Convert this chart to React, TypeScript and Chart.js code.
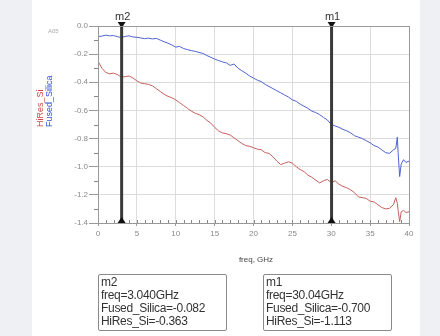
import React, { useEffect, useRef } from "react";
import { Chart, registerables } from "chart.js";

Chart.register(...registerables);

const freq = [
  0, 0.5, 1, 1.5, 2, 2.5, 3, 3.5, 4, 4.5, 5, 5.5, 6, 6.5, 7, 7.5, 8, 8.5, 9, 9.5,
  10, 10.5, 11, 11.5, 12, 12.5, 13, 13.5, 14, 14.5, 15, 15.5, 16, 16.5, 17, 17.5, 18, 18.5, 19, 19.5,
  20, 20.5, 21, 21.5, 22, 22.5, 23, 23.5, 24, 24.5, 25, 25.5, 26, 26.5, 27, 27.5, 28, 28.5, 29, 29.5,
  30, 30.5, 31, 31.5, 32, 32.5, 33, 33.5, 34, 34.5, 35, 35.5, 36, 36.5, 37, 37.5, 38, 38.3, 38.5, 38.6,
  38.8, 39, 39.3, 39.6, 40,
];

const fusedSilica = [
  -0.075, -0.072, -0.065, -0.07, -0.068, -0.076, -0.082, -0.074, -0.07, -0.078, -0.08, -0.085, -0.09, -0.086, -0.092, -0.088, -0.1, -0.112, -0.122, -0.135,
  -0.15, -0.145, -0.16, -0.168, -0.175, -0.18, -0.188, -0.195, -0.21, -0.222, -0.235, -0.245, -0.255, -0.262, -0.28, -0.27, -0.3, -0.318, -0.335, -0.355,
  -0.37, -0.385, -0.395, -0.415, -0.43, -0.445, -0.46, -0.475, -0.49, -0.505, -0.525, -0.535, -0.555, -0.57, -0.585, -0.605, -0.615, -0.63, -0.65, -0.668,
  -0.7, -0.71, -0.72, -0.735, -0.745, -0.76, -0.78, -0.79, -0.8, -0.815, -0.83, -0.85, -0.86, -0.88, -0.9, -0.905, -0.88, -0.87, -0.79, -0.9,
  -1.07, -0.98, -0.95, -0.97, -0.96,
];

const hiResSi = [
  -0.25, -0.3, -0.33, -0.34, -0.335, -0.345, -0.363, -0.36, -0.355, -0.37, -0.39, -0.405, -0.41, -0.415, -0.425, -0.445, -0.465, -0.485, -0.5, -0.51,
  -0.525, -0.545, -0.565, -0.585, -0.605, -0.62, -0.63, -0.645, -0.67, -0.69, -0.72, -0.745, -0.76, -0.765, -0.775, -0.795, -0.815, -0.835, -0.85, -0.855,
  -0.865, -0.875, -0.88, -0.9, -0.905, -0.93, -0.96, -0.985, -0.975, -0.965, -0.975, -1.0, -1.02, -1.035, -1.06, -1.075, -1.095, -1.115, -1.1, -1.09,
  -1.113, -1.1, -1.125, -1.14, -1.15, -1.165, -1.185, -1.215, -1.22, -1.225, -1.245, -1.25, -1.27, -1.29, -1.3, -1.295, -1.27, -1.22, -1.26, -1.31,
  -1.39, -1.32, -1.31, -1.325, -1.32,
];

const markerNames = ["m2", "m1"];
const markerFreqs = [3.04, 30.04];
const markerFreqText = ["3.040GHz", "30.04GHz"];
const markerFused = ["-0.082", "-0.700"];
const markerHiRes = ["-0.363", "-1.113"];

const xMin = 0;
const xMax = 40;
const yMin = -1.4;
const yMax = 0;

const markerPlugin = {
  id: "markerPlugin",
  afterDatasetsDraw(chart: any) {
    const { ctx, chartArea, scales } = chart;
    const xs = scales.x;
    const ys = scales.y;
    ctx.save();
    // minor ticks
    ctx.strokeStyle = "#888";
    ctx.lineWidth = 1;
    for (let f = 1; f < 40; f++) {
      const px = Math.round(xs.getPixelForValue(f)) + 0.5;
      ctx.beginPath();
      ctx.moveTo(px, chartArea.bottom);
      ctx.lineTo(px, chartArea.bottom - 3);
      ctx.stroke();
    }
    for (let k = 1; k < 14; k += 2) {
      const py = Math.round(ys.getPixelForValue(-k / 10)) + 0.5;
      ctx.beginPath();
      ctx.moveTo(chartArea.left, py);
      ctx.lineTo(chartArea.left - 4, py);
      ctx.stroke();
    }
    // markers
    markerFreqs.forEach((mf, i) => {
      const px = xs.getPixelForValue(mf);
      ctx.strokeStyle = "#3a3a3a";
      ctx.lineWidth = 3;
      ctx.beginPath();
      ctx.moveTo(px, chartArea.top - 3);
      ctx.lineTo(px, chartArea.bottom);
      ctx.stroke();
      ctx.fillStyle = "#111";
      ctx.beginPath();
      ctx.moveTo(px - 4, chartArea.top - 4);
      ctx.lineTo(px + 4, chartArea.top - 4);
      ctx.lineTo(px, chartArea.top + 2);
      ctx.closePath();
      ctx.fill();
      ctx.beginPath();
      ctx.moveTo(px - 4, chartArea.bottom);
      ctx.lineTo(px + 4, chartArea.bottom);
      ctx.lineTo(px, chartArea.bottom - 6);
      ctx.closePath();
      ctx.fill();
      ctx.fillStyle = "#333";
      ctx.font = "11px Arial, 'Liberation Sans', sans-serif";
      ctx.textAlign = "center";
      ctx.textBaseline = "bottom";
      ctx.fillText(markerNames[i], px + 1, chartArea.top - 4);
    });
    ctx.restore();
  },
};

function MarkerBox({ i, left }: { i: number; left: number }) {
  return (
    <div
      style={{
        position: "absolute",
        left,
        top: 274,
        width: 129,
        height: 57,
        border: "1px solid #8a8a8a",
        borderRadius: 2,
        boxSizing: "border-box",
        padding: "1px 2px",
        font: "12px Arial, 'Liberation Sans', sans-serif",
        lineHeight: "13px",
        color: "#333",
        letterSpacing: "-0.3px",
        whiteSpace: "nowrap",
        overflow: "hidden",
      }}
    >
      <div>{markerNames[i]}</div>
      <div>freq={markerFreqText[i]}</div>
      <div>Fused_Silica={markerFused[i]}</div>
      <div>HiRes_Si={markerHiRes[i]}</div>
    </div>
  );
}

export default function App() {
  const canvasRef = useRef<HTMLCanvasElement | null>(null);

  useEffect(() => {
    document.body.style.margin = "0";
    const canvas = canvasRef.current;
    if (!canvas) return;
    const chart = new Chart(canvas, {
      type: "line",
      data: {
        datasets: [
          {
            label: "Fused_Silica",
            data: freq.map((f, i) => ({ x: f, y: fusedSilica[i] })),
            borderColor: "#4f63d2",
            borderWidth: 1,
            pointRadius: 0,
            tension: 0,
          },
          {
            label: "HiRes_Si",
            data: freq.map((f, i) => ({ x: f, y: hiResSi[i] })),
            borderColor: "#c4605c",
            borderWidth: 1,
            pointRadius: 0,
            tension: 0,
          },
        ],
      },
      options: {
        animation: false,
        responsive: false,
        maintainAspectRatio: false,
        layout: { padding: { left: 60, top: 26, right: 31, bottom: 93 } },
        plugins: { legend: { display: false }, tooltip: { enabled: false } },
        scales: {
          x: {
            type: "linear",
            min: xMin,
            max: xMax,
            afterFit: (s: any) => {
              s.height = 20;
            },
            ticks: {
              stepSize: 5,
              color: "#888",
              font: { size: 8, family: "Arial, 'Liberation Sans', sans-serif" },
              padding: 3,
              maxRotation: 0,
            },
            grid: { color: "#dcdcdc", tickLength: 3, tickColor: "#999" },
            border: { color: "#999", width: 1 },
          },
          y: {
            type: "linear",
            min: yMin,
            max: yMax,
            afterFit: (s: any) => {
              s.width = 38;
            },
            ticks: {
              stepSize: 0.2,
              color: "#888",
              font: { size: 8, family: "Arial, 'Liberation Sans', sans-serif" },
              padding: 1,
              callback: (v: any) => Number(v).toFixed(1),
            },
            grid: { color: "#dcdcdc", tickLength: 9, tickColor: "#999" },
            border: { color: "#999", width: 1 },
          },
        },
      },
      plugins: [
        markerPlugin,
        {
          id: "frame",
          afterDraw(c: any) {
            const { ctx, chartArea } = c;
            ctx.save();
            ctx.strokeStyle = "#999";
            ctx.lineWidth = 1;
            ctx.strokeRect(
              Math.round(chartArea.left) + 0.5,
              Math.round(chartArea.top) + 0.5,
              Math.round(chartArea.right - chartArea.left),
              Math.round(chartArea.bottom - chartArea.top)
            );
            ctx.restore();
          },
        },
      ],
    } as any);
    return () => chart.destroy();
  }, []);

  return (
    <div style={{ position: "relative", width: 440, height: 336, background: "#fff", overflow: "hidden" }}>
      <div style={{ position: "absolute", left: 0, top: 0, width: 32, height: 336, background: "#eef0f4" }} />
      <div style={{ position: "absolute", left: 420, top: 0, width: 20, height: 336, background: "#eef0f4" }} />
      <canvas ref={canvasRef} width={440} height={336} style={{ position: "absolute", left: 0, top: 0 }} />
      <div
        style={{
          position: "absolute",
          left: 48,
          top: 28,
          font: "6px Arial, 'Liberation Sans', sans-serif",
          color: "#aaa",
        }}
      >
        A05
      </div>
      <div
        style={{
          position: "absolute",
          left: 36,
          top: 127,
          transform: "rotate(-90deg)",
          transformOrigin: "0 0",
          font: "9px Arial, 'Liberation Sans', sans-serif",
          lineHeight: "9px",
          whiteSpace: "nowrap",
        }}
      >
        <div style={{ color: "#d04848" }}>HiRes_Si</div>
        <div style={{ color: "#3550d8" }}>Fused_Silica</div>
      </div>
      <div
        style={{
          position: "absolute",
          left: 230,
          top: 255,
          width: 52,
          textAlign: "center",
          font: "8px Arial, 'Liberation Sans', sans-serif",
          color: "#444",
        }}
      >
        freq, GHz
      </div>
      <MarkerBox i={0} left={98} />
      <MarkerBox i={1} left={263} />
    </div>
  );
}
